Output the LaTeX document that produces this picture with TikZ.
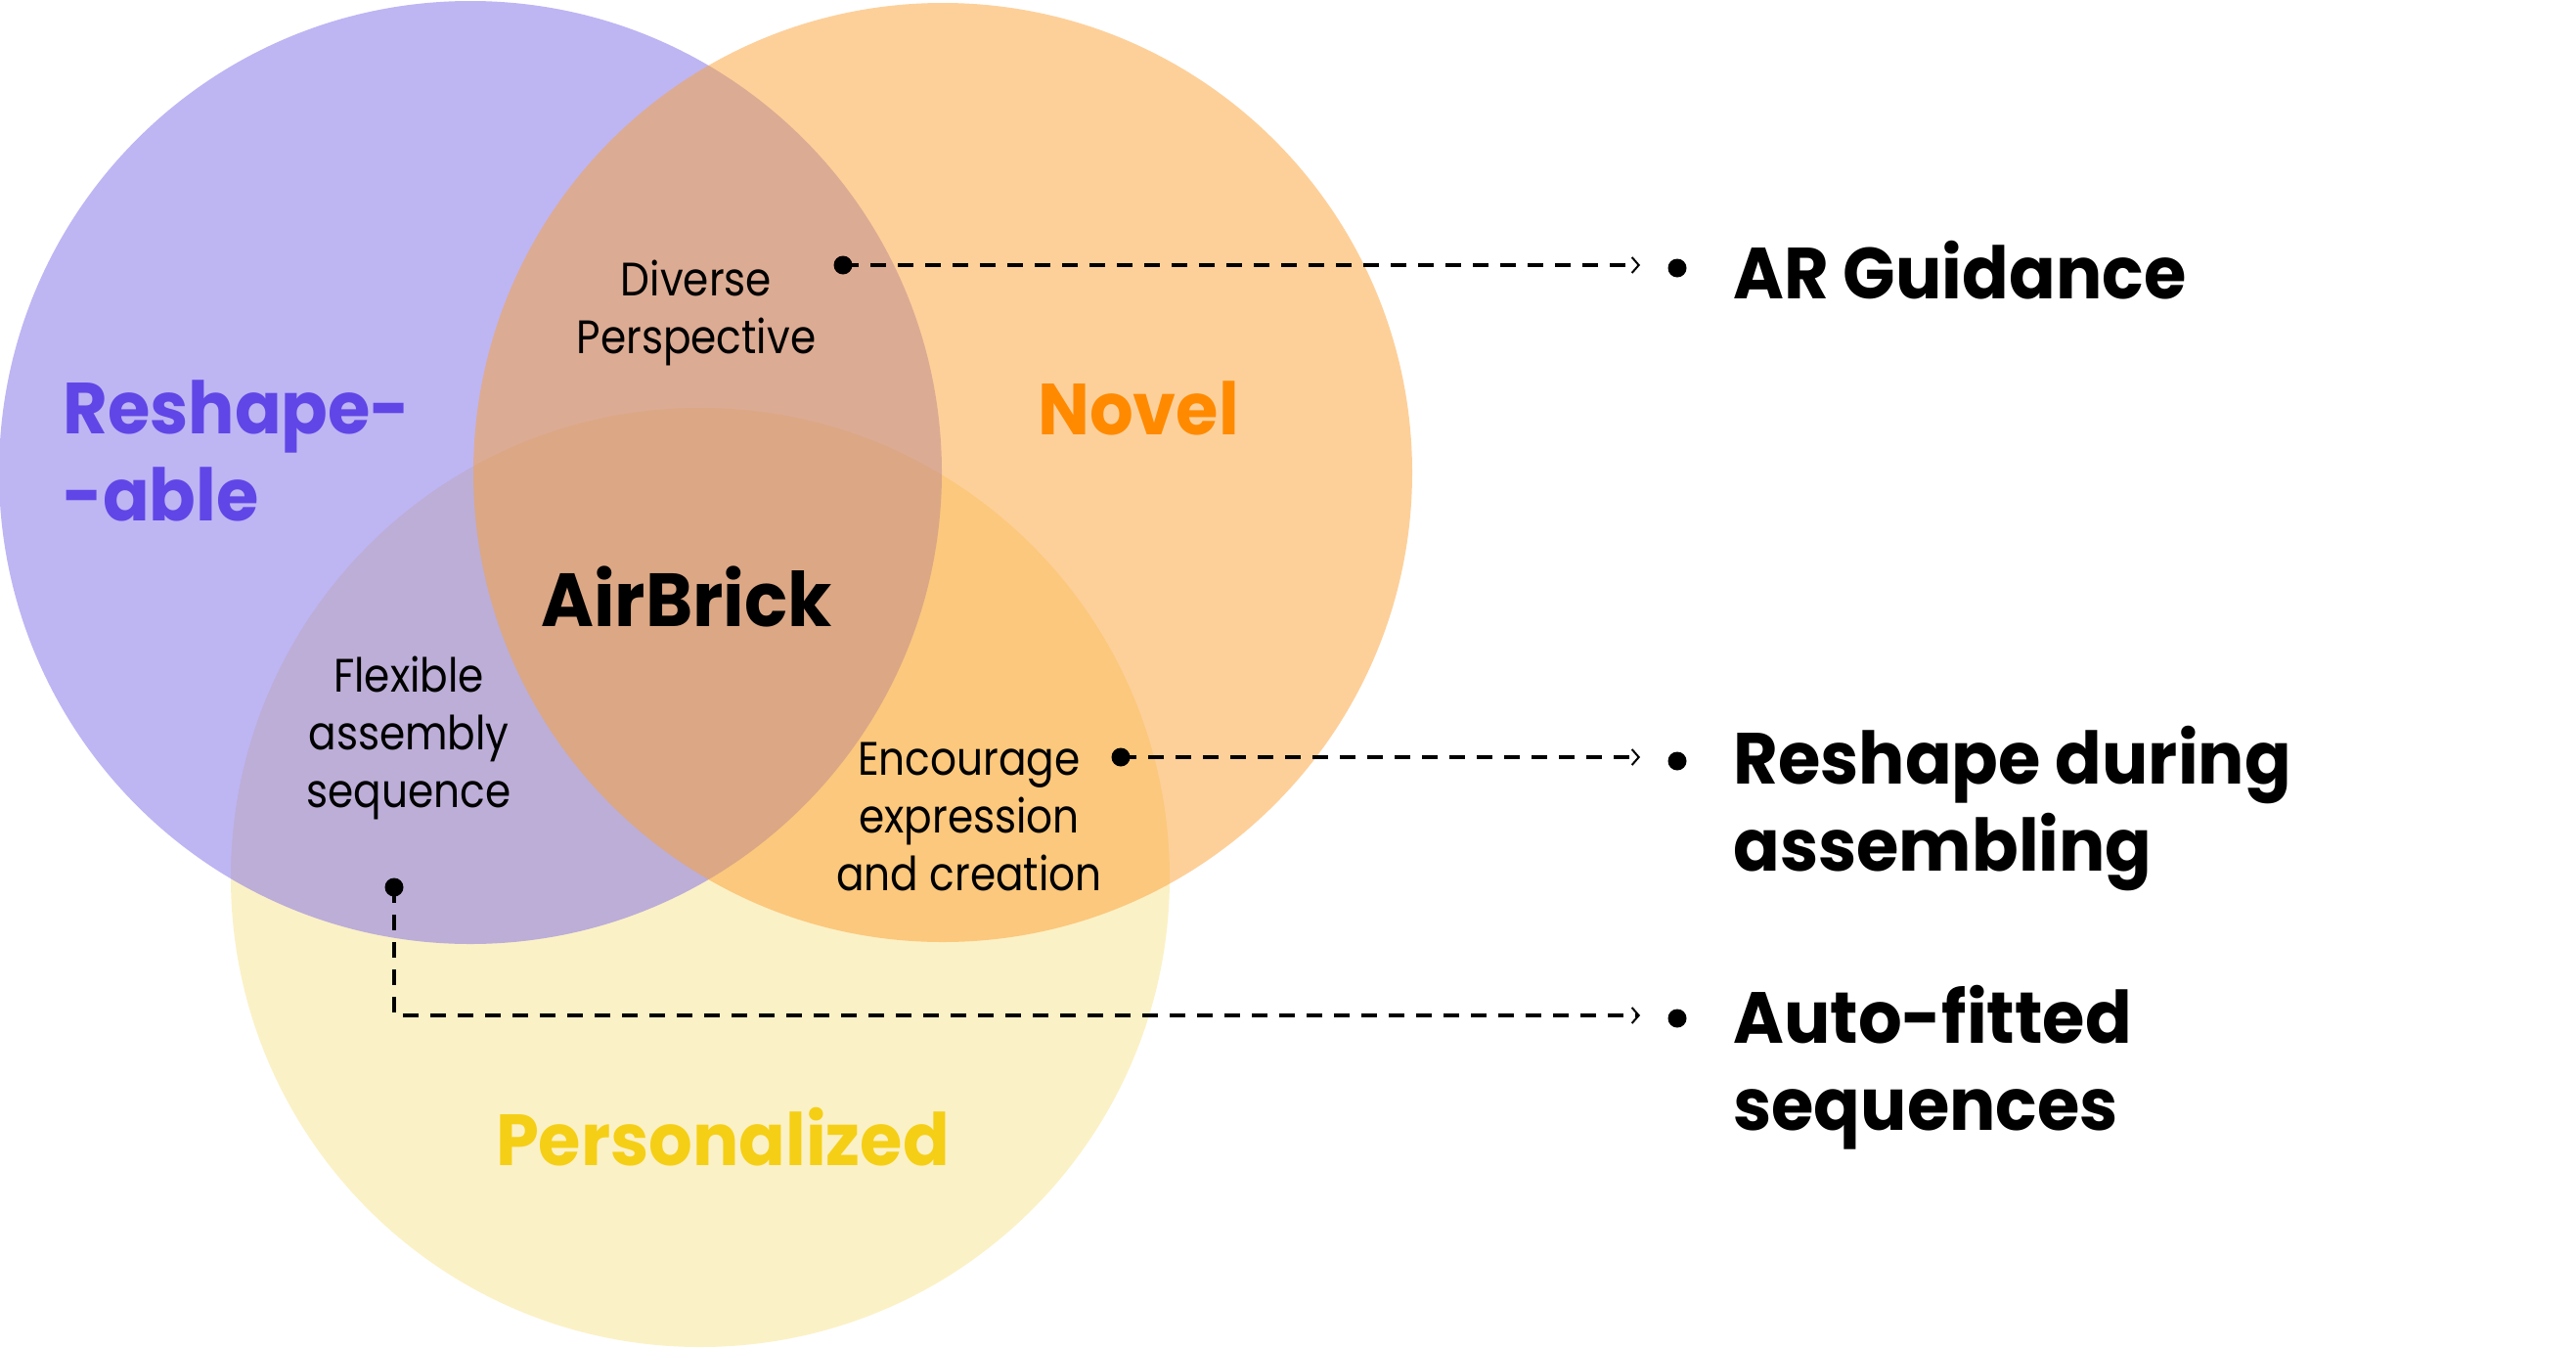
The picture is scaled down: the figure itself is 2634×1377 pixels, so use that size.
\documentclass[tikz,border=0pt]{standalone}
\usepackage{fontspec}
\setmainfont{Poppins}
\newfontfamily\lightf[FakeStretch=0.88]{Poppins}
\newfontfamily\boldf[FakeStretch=0.95]{Poppins Bold}
\usetikzlibrary{arrows.meta}
\definecolor{cPurple}{RGB}{126,108,232}
\definecolor{cOrange}{RGB}{251,161,53}
\definecolor{cYellow}{RGB}{251,241,198}
\definecolor{tPurple}{RGB}{96,70,230}
\definecolor{tOrange}{RGB}{255,138,0}
\definecolor{tYellow}{RGB}{245,207,21}
\tikzset{
  lighttext/.style={font=\lightf\fontsize{24pt}{29.5pt}\selectfont, align=center, inner sep=0pt, text=black},
  bigtext/.style={font=\boldf\fontsize{37pt}{44.5pt}\selectfont, inner sep=0pt},
  listtext/.style={font=\boldf\fontsize{37pt}{44.5pt}\selectfont, align=left, anchor=west, inner sep=0pt, text=black},
  dotn/.style={circle, fill=black, inner sep=0pt, minimum size=9.5pt},
  dashline/.style={line width=1.9pt, dash pattern=on 8pt off 6pt, -{Straight Barb[length=3.5pt,width=8pt,line width=1pt]}},
}
\begin{document}
\begin{tikzpicture}[x=0.5pt,y=-0.5pt]
\useasboundingbox (0,0) rectangle (2634,1377);
% circles
\fill[cYellow] (716,897) circle[radius=240pt];
\fill[cPurple, fill opacity=0.5] (481,483) circle[radius=241pt];
\fill[cOrange, fill opacity=0.5] (964,483) circle[radius=240pt];
% labels
\node[bigtext, text=tPurple, align=left, anchor=west] (reshape) at (64,461) {Reshape-\\-able};
\node[bigtext, text=tOrange] (novel) at (1164,417) {Novel};
\node[bigtext, text=black, font=\boldf\fontsize{38.5pt}{44.5pt}\selectfont] (airbrick) at (702,610) {AirBrick};
\node[bigtext, text=tYellow] (personal) at (739,1162) {Personalized};
\node[lighttext] (diverse) at (712,320) {Diverse\\Perspective};
\node[lighttext] (flex) at (418,754) {Flexible\\assembly\\sequence};
\node[lighttext] (enc) at (991,835) {Encourage\\expression\\and creation};
% right list
\node[listtext] (l1) at (1772,276) {AR Guidance};
\node[listtext] (l2) at (1772,827) {Reshape during\\assembling};
\node[listtext] (l3) at (1772,1091) {Auto-fitted\\sequences};
\node[dotn] (b1) at (1715,274) {};
\node[dotn] (b2) at (1715,778) {};
\node[dotn] (b3) at (1715,1041) {};
% connectors
\node[dotn] (d1) at (862,271) {};
\node[dotn] (d2) at (1146,774) {};
\node[dotn] (d3) at (403,907) {};
\coordinate (t1) at (1677,271);
\coordinate (t2) at (1677,774);
\coordinate (t3) at (1677,1038);
\draw[dashline] (d1.center) -- (t1);
\draw[dashline] (d2.center) -- (t2);
\draw[dashline] (d3.center) |- (t3);
\end{tikzpicture}
\end{document}
